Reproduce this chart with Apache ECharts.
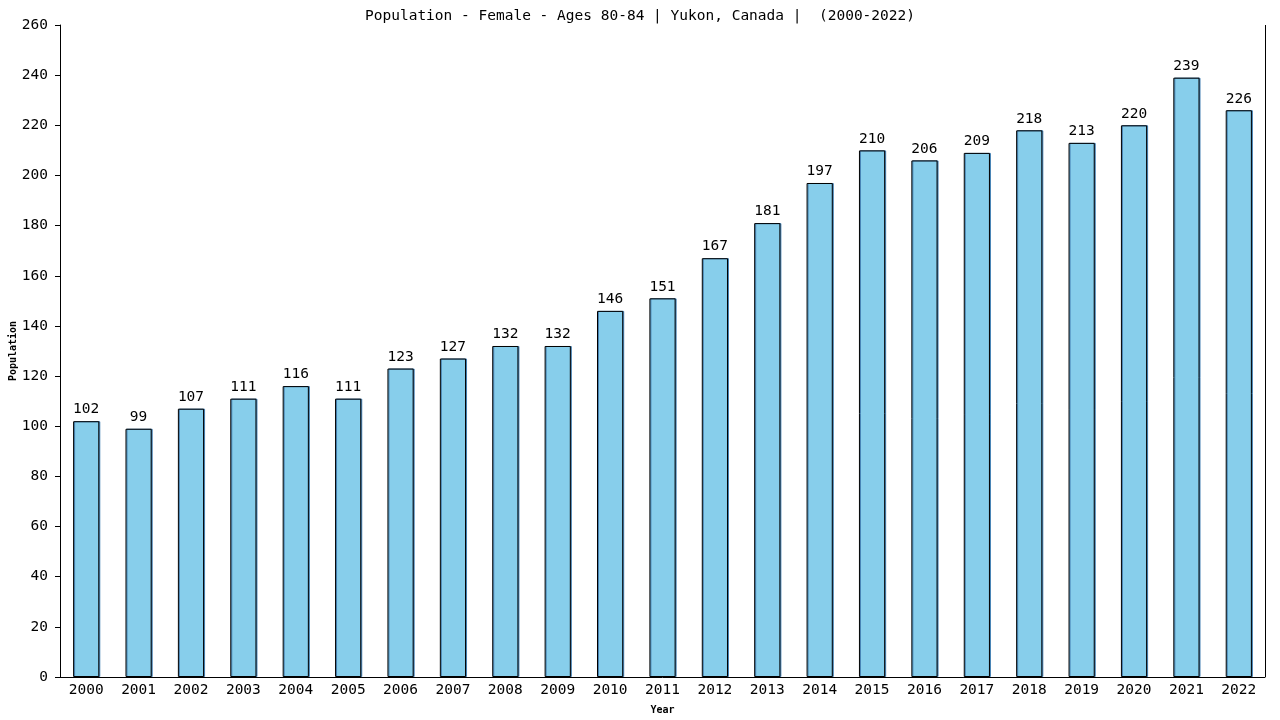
<!DOCTYPE html>
<html><head><meta charset="utf-8">
<script src="https://cdn.jsdelivr.net/npm/echarts@6/dist/echarts.min.js"></script>
<style>html,body{margin:0;padding:0;background:#fff}#c{width:1280px;height:720px}</style>
</head><body><div id="c"></div>
<script>
const years = ['2000','2001','2002','2003','2004','2005','2006','2007','2008','2009','2010','2011','2012','2013','2014','2015','2016','2017','2018','2019','2020','2021','2022'];
const values = [102,99,107,111,116,111,123,127,132,132,146,151,167,181,197,210,206,209,218,213,220,239,226];
const titleText = 'Population - Female - Ages 80-84 | Yukon, Canada |  (2000-2022)';
const font = '"DejaVu Sans Mono", monospace';
const chart = echarts.init(document.getElementById('c'));
chart.setOption({
  animation: false,
  title: {text: titleText, left: 'center', top: 4, textStyle: {fontFamily: font, fontSize: 14.5, fontWeight: 'normal', color: '#000'}},
  grid: {left: 60, right: 15, top: 25, bottom: 43, containLabel: false, outerBoundsMode: 'none'},
  xAxis: {
    type: 'category', data: years, name: 'Year', nameLocation: 'middle', nameGap: 28, nameMoveOverlap: false,
    nameTextStyle: {fontFamily: font, fontSize: 10, fontWeight: 'bold', color: '#000'},
    axisLine: {lineStyle: {color: '#000', width: 1}}, axisTick: {show: false},
    axisLabel: {fontFamily: font, fontSize: 14.5, color: '#000', margin: 6}
  },
  yAxis: {
    type: 'value', min: 0, max: 260, interval: 20, name: 'Population', nameLocation: 'middle', nameGap: 42, nameMoveOverlap: false,
    nameTextStyle: {fontFamily: font, fontSize: 10, fontWeight: 'bold', color: '#000'},
    axisLine: {show: true, lineStyle: {color: '#000', width: 1}},
    axisTick: {show: true, length: 5, lineStyle: {color: '#000'}},
    axisLabel: {fontFamily: font, fontSize: 14.5, color: '#000', margin: 12},
    splitLine: {show: false}
  },
  series: [{
    type: 'bar', data: values, barWidth: '50%',
    itemStyle: {color: '#87ceeb', borderColor: '#000', borderWidth: 1, shadowColor: '#4682b4', shadowOffsetX: 1, shadowOffsetY: 0},
    label: {show: true, position: 'top', distance: 4, fontFamily: font, fontSize: 14.5, color: '#000'}
  }],
  graphic: [{type: 'line', shape: {x1: 1265.5, y1: 25, x2: 1265.5, y2: 677}, style: {stroke: '#000', lineWidth: 1}}]
});
</script></body></html>
